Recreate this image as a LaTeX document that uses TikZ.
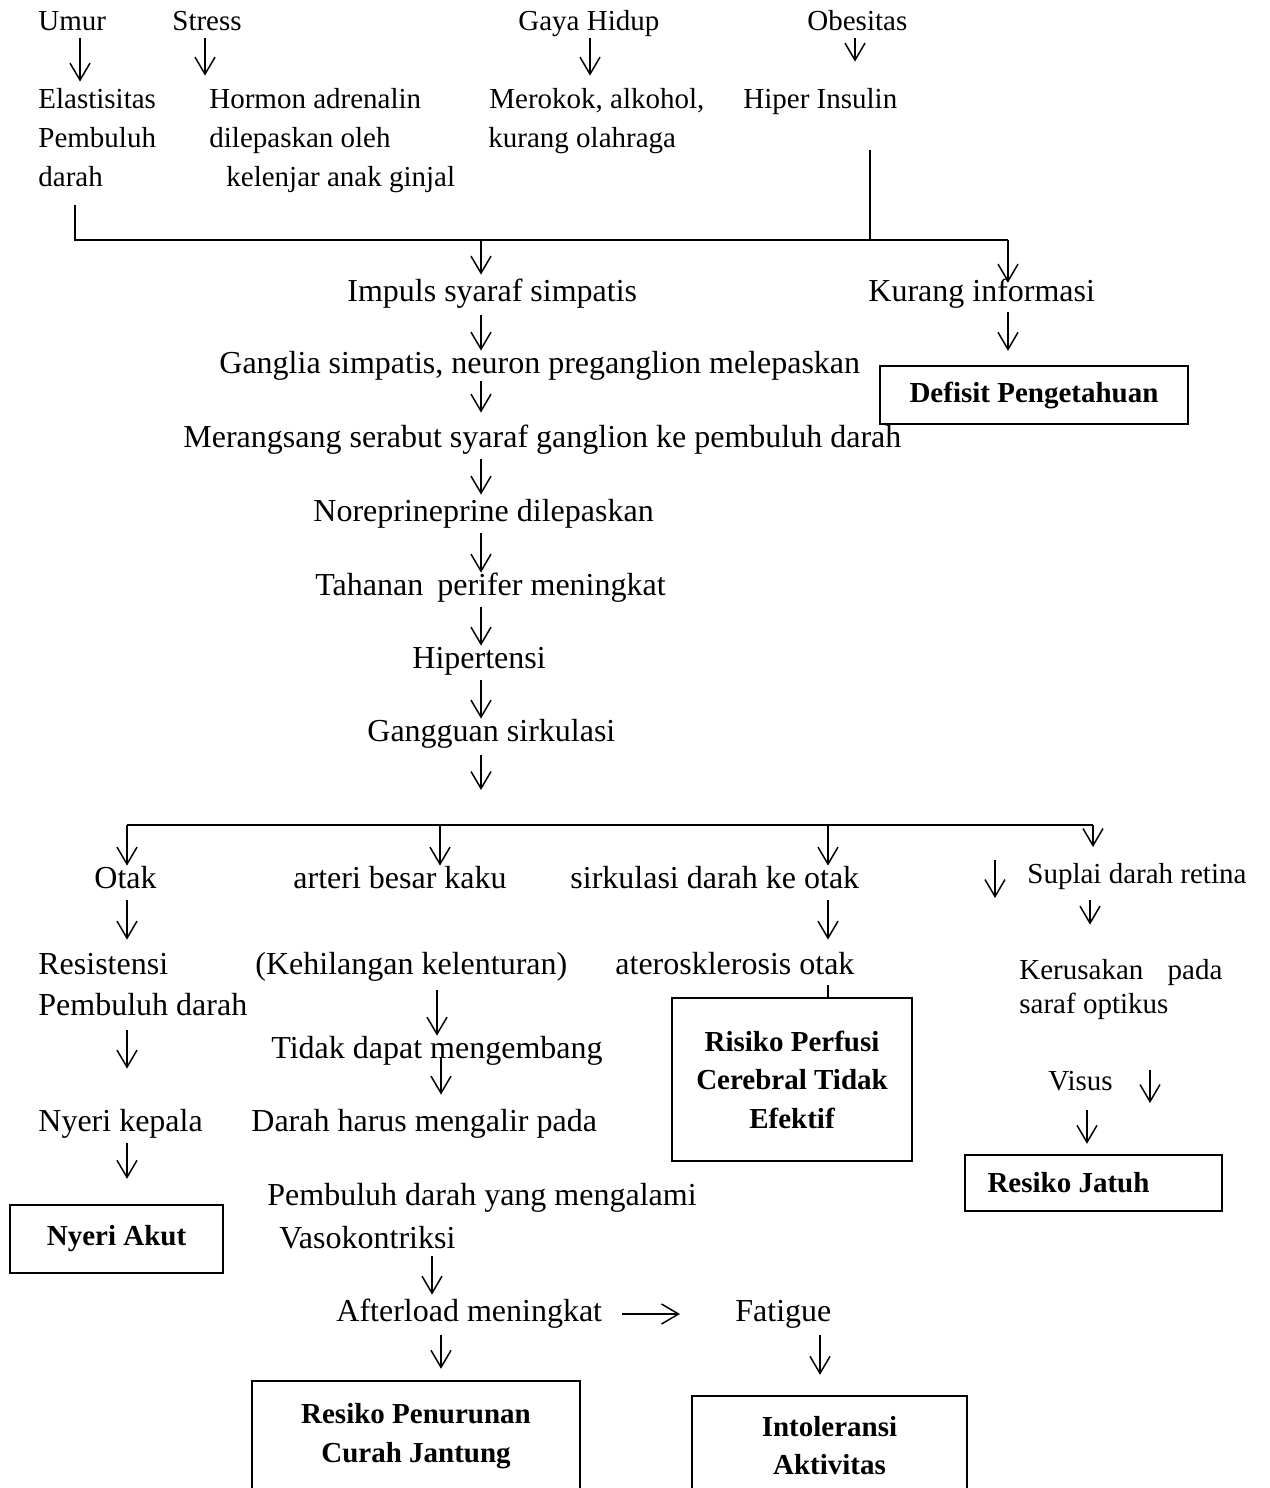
\documentclass[tikz,border=0pt]{standalone}
\usepackage{fontspec}
\setmainfont{Liberation Serif}
\usetikzlibrary{arrows.meta}

\begin{document}
\begin{tikzpicture}[
    x=0.5pt,y=-0.5pt,
    txt/.style={inner sep=0pt, anchor=base west, font=\fontsize{16}{19.5}\selectfont, text height=11pt, text depth=4pt},
    sml/.style={txt, font=\fontsize{14.5}{19.5}\selectfont, text height=10pt, text depth=3.5pt},
    box/.style={draw, line width=1.2pt, inner sep=0pt, align=center, font=\fontsize{14.5}{19.25}\selectfont\bfseries},
    line/.style={line width=0.8pt},
    arr/.style={line width=0.75pt, -{Straight Barb[length=8.5pt,width=10pt,line width=0.75pt]}}
    ]
    \fill[white] (0,0) rectangle (1269,1488);
    \useasboundingbox (0,0) rectangle (1269,1488);

    \node[sml] (umur) at (38,31) {Umur};
    \node[sml] (stress) at (172,31) {Stress};
    \node[sml] (gaya) at (518,31) {Gaya Hidup};
    \node[sml] (obes) at (807,31) {Obesitas};
    \node[sml] (elast1) at (38,108) {Elastisitas};
    \node[sml] (elast2) at (38,147) {Pembuluh};
    \node[sml] (elast3) at (38,186) {darah};
    \node[sml] (horm1) at (209,108) {Hormon adrenalin};
    \node[sml] (horm2) at (209,147) {dilepaskan oleh};
    \node[sml] (horm3) at (226,186) {kelenjar anak ginjal};
    \node[sml] (rokok1) at (489,108) {Merokok, alkohol,};
    \node[sml] (rokok2) at (488,147) {kurang olahraga};
    \node[sml] (hiper) at (743,108) {Hiper Insulin};
    \draw[arr, shorten >=3pt] (umur.south -| 80,0) -- (elast1.north -| 80,0);
    \draw[arr, shorten >=6pt] (stress.south -| 205,0) -- (horm1.north -| 205,0);
    \draw[arr, shorten >=6pt] (gaya.south -| 590,0) -- (rokok1.north -| 590,0);
    \draw[arr, shorten >=13pt] (obes.south -| 855,0) -- (hiper.north -| 855,0);

    \coordinate (jL) at (75,240);
    \coordinate (jC) at (481,240);
    \coordinate (jH) at (870,240);
    \coordinate (jR) at (1008,240);
    \draw[line, shorten <=6pt] (elast3.south -| jL) -- (jL) -- (jR);
    \draw[line, shorten <=17.5pt] (hiper.south -| jH) -- (jH);

    \node[txt] (impuls) at (347,301) {Impuls syaraf simpatis};
    \node[txt] (ganglia) at (219,373) {Ganglia simpatis, neuron preganglion melepaskan};
    \node[txt] (merang) at (183,447) {Merangsang serabut syaraf ganglion ke pembuluh darah};
    \node[txt] (norep) at (313,521) {Noreprineprine dilepaskan};
    \node[txt] (tahanan) at (315,595) {Tahanan\hspace{3pt} perifer meningkat};
    \node[txt] (hipert) at (412,668) {Hipertensi};
    \node[txt] (gangg) at (367,741) {Gangguan sirkulasi};
    \coordinate (gE) at (481,790);
    \draw[arr, shorten >=2pt] (jC) -- (impuls.north -| jC);
    \draw[arr, shorten <=3pt] (impuls.south -| jC) -- (ganglia.north -| jC);
    \draw[arr, shorten >=6pt] (ganglia.south -| jC) -- (merang.north -| jC);
    \draw[arr, shorten <=2pt, shorten >=2pt] (merang.south -| jC) -- (norep.north -| jC);
    \draw[arr, shorten <=2pt] (norep.south -| jC) -- (tahanan.north -| jC);
    \draw[arr, shorten <=2pt] (tahanan.south -| jC) -- (hipert.north -| jC);
    \draw[arr, shorten <=2pt] (hipert.south -| jC) -- (gangg.north -| jC);
    \draw[arr, shorten <=3pt] (gangg.south -| jC) -- (gE);

    \node[txt] (kurang) at (868,301) {Kurang informasi};
    \node[box, minimum width=154pt, minimum height=29pt] (defisit) at (1034,395) {Defisit Pengetahuan};
    \draw[arr, shorten >=-2pt] (jR) -- (kurang.north -| jR);
    \draw[arr, shorten <=1.5pt, shorten >=7pt] (kurang.south -| jR) -- (defisit.north -| jR);

    \coordinate (bL) at (127,825);
    \coordinate (bA) at (440,825);
    \coordinate (bS) at (828,825);
    \coordinate (bR) at (1093,825);
    \coordinate (bRe) at (1093,847);
    \draw[line] (bL) -- (bR);
    \node[txt] (otak) at (94,888) {Otak};
    \node[txt] (arteri) at (293,888) {arteri besar kaku};
    \node[txt] (sirk) at (570,888) {sirkulasi darah ke otak};
    \node[sml] (suplai) at (1027,883) {Suplai darah retina};
    \draw[arr] (bL) -- (otak.north -| bL);
    \draw[arr] (bA) -- (arteri.north -| bA);
    \draw[arr] (bS) -- (sirk.north -| bS);
    \draw[arr] (bR) -- (bRe);
    \coordinate (lo1) at (995,860);
    \coordinate (lo2) at (995,898);
    \draw[arr] (lo1) -- (lo2);

    \node[txt] (resist1) at (38,974) {Resistensi};
    \node[txt] (resist2) at (38,1015) {Pembuluh darah};
    \node[txt] (kehil) at (255,974) {(Kehilangan kelenturan)};
    \node[txt] (ateros) at (615,974) {aterosklerosis otak};
    \node[sml] (kerus1) at (1019,979) {\makebox[101.5pt][s]{Kerusakan pada}};
    \node[sml] (kerus2) at (1019,1013) {saraf optikus};
    \draw[arr, shorten <=2pt, shorten >=6pt] (otak.south -| bL) -- (resist1.north -| bL);
    \draw[arr, shorten <=2pt, shorten >=6pt] (sirk.south -| bS) -- (ateros.north -| bS);
    \draw[arr, shorten <=5pt, shorten >=17pt] (suplai.south -| 1090,0) -- (kerus1.north -| 1090,0);

    \node[box, minimum width=120pt, minimum height=81.5pt] (perfusi) at (792,1079.5) {Risiko Perfusi\\Cerebral Tidak\\Efektif};
    \draw[line, shorten <=1.5pt] (ateros.south -| bS) -- (perfusi.north -| bS);

    \node[txt] (tidak) at (271,1058) {Tidak dapat mengembang};
    \node[txt] (darahh) at (251,1131) {Darah harus mengalir pada};
    \node[txt] (nyeri) at (38,1131) {Nyeri kepala};
    \draw[arr, shorten <=4pt] (kehil.south -| 437,0) -- (tidak.north -| 437,0);
    \draw[arr, shorten <=-4pt, shorten >=7pt] (tidak.south -| 441,0) -- (darahh.north -| 441,0);
    \draw[arr, shorten <=3.5pt, shorten >=20pt] (resist2.south -| bL) -- (nyeri.north -| bL);

    \node[sml] (visus) at (1048,1090) {Visus};
    \coordinate (vs1) at (1150,1070);
    \coordinate (vs2) at (1150,1103);
    \draw[arr] (vs1) -- (vs2);
    \node[box, minimum width=128.5pt, minimum height=28pt] (jatuh) at (1093.5,1183) {Resiko Jatuh\hspace*{25pt}};
    \draw[arr, shorten <=6.5pt, shorten >=5pt] (visus.south -| 1087,0) -- (jatuh.north -| 1087,0);

    \node[box, minimum width=106.5pt, minimum height=34pt] (akut) at (116.5,1239) {Nyeri Akut};
    \draw[arr, shorten <=2pt, shorten >=12.5pt] (nyeri.south -| bL) -- (akut.north -| bL);

    \node[txt] (pemb1) at (267,1205) {Pembuluh darah yang mengalami};
    \node[txt] (pemb2) at (279,1248) {Vasokontriksi};
    \node[txt] (after) at (336,1321) {Afterload meningkat};
    \node[txt] (fatigue) at (735,1321) {Fatigue};
    \draw[arr, shorten >=2pt] (pemb2.south -| 432,0) -- (after.north -| 432,0);
    \draw[arr, shorten <=10pt, shorten >=27.5pt] (after.east) -- (fatigue.west);

    \node[box, minimum width=164pt, minimum height=55pt] (penur) at (416,1436) {Resiko Penurunan\\Curah Jantung};
    \node[box, minimum width=137.5pt, minimum height=49.5pt] (intol) at (829.5,1445.5) {Intoleransi\\Aktivitas};
    \draw[arr, shorten <=3pt, shorten >=5.5pt] (after.south -| 441,0) -- (penur.north -| 441,0);
    \draw[arr, shorten <=3pt, shorten >=10pt] (fatigue.south -| 820,0) -- (intol.north -| 820,0);
\end{tikzpicture}
\end{document}
